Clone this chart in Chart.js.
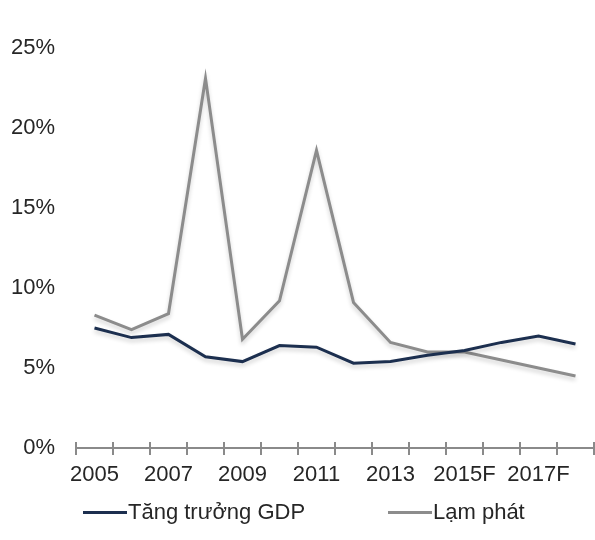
<!DOCTYPE html>
<html>
<head>
<meta charset="utf-8">
<script src="https://cdn.jsdelivr.net/npm/chart.js@4/dist/chart.umd.min.js"></script>
<style>
  html, body { margin:0; padding:0; background:#fff; }
  #wrap { position:relative; width:595px; height:540px; font-family:'Liberation Sans', Arial, sans-serif; }
  #wrap canvas { position:absolute; left:0; top:0; }
  .lg-line { position:absolute; height:3px; width:44px; }
  .lg-text { position:absolute; font-size:22px; line-height:26px; color:#262626; white-space:nowrap; }
</style>
</head>
<body>
<div id="wrap">
  <canvas id="chart" width="595" height="540"></canvas>
  <div class="lg-line" style="left:83px;top:511px;background:#1c2f4f;"></div>
  <div class="lg-text" style="left:128px;top:499px;">Tăng trưởng GDP</div>
  <div class="lg-line" style="left:388px;top:511px;background:#8c8c8c;"></div>
  <div class="lg-text" style="left:433px;top:499px;">Lạm phát</div>
</div>
<script>
/* GDP vs lạm phát — line chart */

const years     = ['2005','2006','2007','2008','2009','2010','2011','2012','2013','2014','2015F','2016F','2017F','2018F'];
const gdpGrowth = [7.5, 6.9, 7.1, 5.7, 5.4, 6.4, 6.3, 5.3, 5.4, 5.8, 6.1, 6.6, 7.0, 6.5];
const inflation = [8.3, 7.4, 8.4, 23.1, 6.8, 9.2, 18.6, 9.1, 6.6, 6.0, 6.0, 5.5, 5.0, 4.5];
const seriesNames = ['Tăng trưởng GDP', 'Lạm phát'];

const NAVY = '#1c2f4f', GREY = '#8c8c8c', AXIS = '#8a8a8a', TEXT = '#262626';
const FONT = { family:"'Liberation Sans', Arial, sans-serif", size:22 };

// soft shadow under each line, like the original office chart
const lineShadow = {
  id:'lineShadow',
  beforeDatasetDraw(chart) { const c = chart.ctx; c.save(); c.shadowColor = 'rgba(0,0,0,0.18)'; c.shadowBlur = 4; c.shadowOffsetY = 3; },
  afterDatasetDraw(chart) { chart.ctx.restore(); }
};

// tick marks crossing the x axis at every category boundary
const crossTicks = {
  id:'crossTicks',
  afterDraw(chart) {
    const xs = chart.scales.x, y0 = chart.scales.y.getPixelForValue(0), c = chart.ctx;
    c.save(); c.strokeStyle = AXIS; c.lineWidth = 2;
    for (let i = 0; i <= years.length; i++) {
      const px = Math.round(xs.getPixelForValue(i - 0.5));
      c.beginPath(); c.moveTo(px, y0 - 6); c.lineTo(px, y0 + 7); c.stroke();
    }
    c.restore();
  }
};

new Chart(document.getElementById('chart'), {
  type:'line',
  data:{
    labels:years,
    datasets:[
      { label:seriesNames[0], data:gdpGrowth, borderColor:NAVY, borderWidth:3, pointRadius:0, tension:0, clip:false },
      { label:seriesNames[1], data:inflation, borderColor:GREY, borderWidth:3, pointRadius:0, tension:0, clip:false }
    ]
  },
  options:{
    responsive:false, animation:false,
    layout:{ padding:{ left:0, right:1, top:48, bottom:52 } },
    plugins:{ legend:{ display:false }, tooltip:{ enabled:false } },
    scales:{
      x:{
        offset:true,
        grid:{ display:false, drawTicks:false },
        border:{ display:true, color:AXIS, width:2 },
        ticks:{ color:TEXT, font:FONT, padding:14, autoSkip:false, maxRotation:0,
                callback:(v, i) => i % 2 === 0 ? years[i] : '' },
        afterFit:s => { s.height = 40; }
      },
      y:{
        min:0, max:25,
        grid:{ display:false, drawTicks:false },
        border:{ display:false },
        ticks:{ stepSize:5, color:TEXT, font:FONT, padding:21, callback:v => v + '%' },
        afterFit:s => { s.width = 76; }
      }
    }
  },
  plugins:[lineShadow, crossTicks]
});
</script>
</body>
</html>
